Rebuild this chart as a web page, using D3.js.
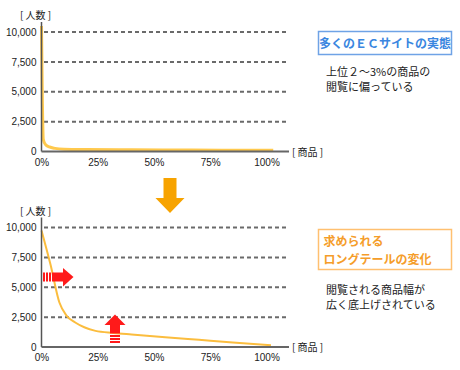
<!DOCTYPE html>
<html><head><meta charset="utf-8">
<script src="https://cdn.jsdelivr.net/npm/d3@7"></script>
<style>body{margin:0;background:#fff;}svg{display:block;}</style>
</head><body>
<script>
// ---- data ----
const yTicks = [0, 2500, 5000, 7500, 10000];
const xTicks = [0, 25, 50, 75, 100];
const topX = [0, 0.4, 0.8, 1.8, 3.5, 6, 10, 20, 40, 60, 80, 103];
const topY = [10500, 4000, 1000, 580, 380, 260, 190, 160, 140, 125, 110, 100];
const botX = [0, 4, 8, 11, 15, 19, 24, 32, 40, 55, 70, 85, 102];
const botY = [9750, 6900, 3700, 2650, 2050, 1650, 1350, 1180, 1050, 820, 600, 380, 150];
const topTitle = "多くのＥＣサイトの実態";
const topNote = ["上位２～3%の商品の", "閲覧に偏っている"];
const botTitle = ["求められる", "ロングテールの変化"];
const botNote = ["閲覧される商品幅が", "広く底上げされている"];
const yLabel = "[ 人数 ]", xLabel = "[ 商品 ]";

const W = 460, H = 370;
const svg = d3.select("body").append("svg").attr("width", W).attr("height", H);
const FONT = "'Noto Sans CJK JP', 'Noto Sans', sans-serif";
const NUMFONT = "'Liberation Sans', Arial, sans-serif";

function panel(oy, xs, ys, lineW, lineColor) {
  const x = d3.scaleLinear().domain([0, 100]).range([41.5, 266.5]);
  const y = d3.scaleLinear().domain([0, 10000]).range([oy + 151.5, oy + 32]);
  const g = svg.append("g");
  // gridlines
  g.selectAll("line.grid").data(yTicks.filter(d => d > 0)).join("line")
    .attr("x1", 44).attr("x2", 288).attr("y1", d => y(d)).attr("y2", d => y(d))
    .attr("stroke", "#6a6a6a").attr("stroke-width", 2).attr("stroke-dasharray", "4,3");
  // curve
  const pts = xs.map((v, i) => [v, ys[i]]);
  g.append("path").datum(pts)
    .attr("d", d3.line().x(d => x(d[0])).y(d => y(d[1])).curve(d3.curveMonotoneX))
    .attr("fill", "none").attr("stroke", lineColor).attr("stroke-width", lineW)
    .attr("stroke-linejoin", "round").attr("stroke-linecap", "butt");
  // axes
  const ya = g.append("g").attr("transform", `translate(${x(0)},0)`)
    .call(d3.axisLeft(y).tickValues(yTicks).tickSize(0).tickPadding(5).tickFormat(d3.format(",")));
  ya.select(".domain").attr("stroke", "#555").attr("stroke-width", 1.5)
    .attr("d", `M0,${oy + 22}V${y(0)}`);
  ya.selectAll("text").attr("font-family", NUMFONT).attr("font-size", 10).attr("fill", "#222");
  const xa = g.append("g").attr("transform", `translate(0,${y(0)})`)
    .call(d3.axisBottom(x).tickValues(xTicks).tickSize(0).tickPadding(7).tickFormat(d => d + "%"));
  xa.select(".domain").attr("stroke", "#666").attr("stroke-width", 2).attr("d", `M${x(0)},0H289`);
  xa.selectAll("text").attr("font-family", NUMFONT).attr("font-size", 10).attr("fill", "#222");
  // axis labels
  g.append("text").attr("x", 20).attr("y", oy + 19).text(yLabel)
    .attr("font-family", FONT).attr("font-size", 10).attr("fill", "#222");
  g.append("text").attr("x", 292).attr("y", y(0) + 4).text(xLabel)
    .attr("font-family", FONT).attr("font-size", 10).attr("fill", "#222");
  return {x, y, g};
}

const p1 = panel(0, topX, topY, 3, "#ffc94d");
const p2 = panel(195.5, botX, botY, 2, "#fbbd3e");

// Top box
svg.append("rect").attr("x", 318.5).attr("y", 31.5).attr("width", 133).attr("height", 23)
  .attr("fill", "#fff").attr("stroke", "#6fa3e6").attr("stroke-width", 1.5);
svg.append("text").attr("x", 385).attr("y", 47.5).attr("text-anchor", "middle").text(topTitle)
  .attr("font-family", FONT).attr("font-size", 12).attr("font-weight", "bold").attr("fill", "#3a86e0");
topNote.forEach((t, i) => svg.append("text").attr("x", 326).attr("y", 76 + i * 14.5).text(t)
  .attr("font-family", FONT).attr("font-size", 11).attr("fill", "#222"));

// Bottom box
svg.append("rect").attr("x", 318.5).attr("y", 229.5).attr("width", 133).attr("height", 40)
  .attr("fill", "#fff").attr("stroke", "#ffc070").attr("stroke-width", 1.5);
botTitle.forEach((t, i) => svg.append("text").attr("x", 323.5).attr("y", 245.5 + i * 18.3).text(t)
  .attr("font-family", FONT).attr("font-size", 12).attr("font-weight", "bold").attr("fill", "#f59d2a"));
botNote.forEach((t, i) => svg.append("text").attr("x", 326).attr("y", 293.5 + i * 15).text(t)
  .attr("font-family", FONT).attr("font-size", 11).attr("fill", "#222"));

// Orange down arrow
svg.append("path").attr("d", "M163.5,178 H176.5 V198 H184.5 L170,213 L155.5,198 H163.5 Z")
  .attr("fill", "#f7a300");

// Red right arrow (striped tail)
const ra = svg.append("g").attr("fill", "#ff1a1a");
[43, 46, 49].forEach(v => ra.append("rect").attr("x", v).attr("y", 272.5).attr("width", 2).attr("height", 9));
ra.append("rect").attr("x", 52).attr("y", 272.5).attr("width", 12).attr("height", 9);
ra.append("path").attr("d", "M63,268 L73.5,277 L63,286.5 Z");

// Red up arrow (striped tail)
const ua = svg.append("g").attr("fill", "#ff1a1a");
ua.append("path").attr("d", "M104.5,325 L115,314.5 L125.5,325 Z");
ua.append("rect").attr("x", 110).attr("y", 324.5).attr("width", 10).attr("height", 9);
[335, 338, 341].forEach(v => ua.append("rect").attr("x", 110).attr("y", v).attr("width", 10).attr("height", 2));
</script>
</body></html>
